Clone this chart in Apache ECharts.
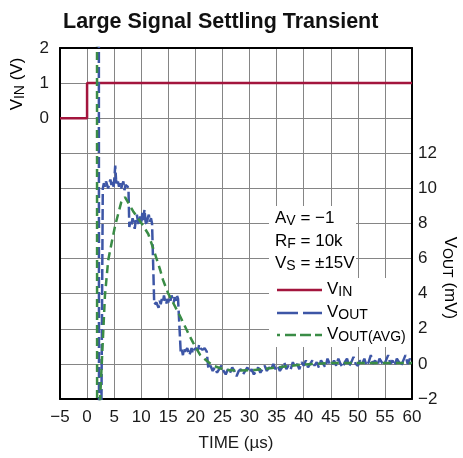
<!DOCTYPE html>
<html><head><meta charset="utf-8">
<script src="https://cdn.jsdelivr.net/npm/echarts@6/dist/echarts.min.js"></script>
<style>html,body{margin:0;padding:0;background:#fff}#c{width:463px;height:458px}</style>
</head><body><div id="c"></div>
<script>
const FONT = '"Liberation Sans Narrow","Liberation Sans",Arial,sans-serif';
const RED = '#a3153d', BLUE = '#3d56a6', GREEN = '#3a8c46';

// TIME (µs) axis
const timeRange = [-5, 60];
const vinRange = [-8, 2];      // left axis (V), labels shown 0..2
const voutRange = [-2, 18];    // right axis (mV), labels shown -2..12
const vinLabelMin = 0;
const voutLabelMax = 12;

// VIN (V)
const vinData = [[-5,0],[0,0],[0,1],[60,1]];

// VOUT (mV)
const voutData = [
[2.15,40],[2.25,-40],[2.5,-10],[2.9,10.0],
[3.1,10.3],[3.3,10.1],[3.5,10.4],[3.7,10.2],[3.9,10.0],[4.1,10.3],[4.3,10.5],[4.5,10.2],[4.7,10.4],[4.9,10.1],[5.05,10.6],[5.2,11.3],[5.35,10.5],[5.5,10.2],[5.7,10.4],[5.9,10.1],[6.1,10.3],[6.3,10.0],[6.5,10.2],[6.7,10.4],[6.9,9.9],[7.1,10.2],[7.3,10.3],[7.5,10.1],[7.65,9.9],
[7.8,7.8],[8.0,8.1],[8.2,7.9],[8.4,8.3],[8.6,8.0],[8.8,7.7],[9.0,8.2],[9.2,8.5],[9.4,8.1],[9.6,7.9],[9.8,8.4],[10.0,8.0],[10.2,8.6],[10.4,8.2],[10.6,8.8],[10.8,8.1],[11.0,7.9],[11.2,8.3],[11.4,8.5],[11.6,8.1],[11.8,8.3],[12.0,8.0],[12.2,7.9],
[12.4,3.4],[12.6,3.3],[12.8,3.5],[13.0,3.4],[13.2,3.2],[13.4,3.6],[13.6,3.4],[13.8,3.7],[14.0,3.5],[14.2,3.9],[14.4,3.6],[14.6,3.4],[14.8,3.7],[15.0,3.5],[15.2,3.8],[15.4,3.6],[15.6,3.9],[15.8,3.7],[16.0,3.5],[16.2,3.8],[16.4,3.6],[16.6,3.9],[16.8,3.7],[17.0,3.6],
[17.3,0.6],[17.5,0.8],[17.7,0.5],[17.9,0.9],[18.1,0.7],[18.3,0.6],[18.5,0.9],[18.7,0.8],[18.9,0.5],[19.1,0.7],[19.3,0.9],[19.5,0.6],[19.7,0.8],[19.9,0.7],[20.1,0.9],[20.3,1.0],[20.5,0.8],[20.7,1.1],[20.9,0.9],[21.1,1.0],[21.3,0.8],[21.5,0.7],[21.7,0.9],[21.9,0.8],[22.1,0.7],
[22.4,-0.3],[22.8,-0.1],[23.2,-0.4],[23.6,-0.2],[24.0,-0.5],[24.4,-0.3],[24.8,-0.1],[25.2,-0.4],[25.6,-0.6],[26.0,-0.3],[26.4,-0.5],[26.8,-0.2],[27.2,-0.4],[27.6,-0.7],[28.0,-0.4],[28.4,-0.3],[28.8,-0.6],[29.2,-0.4],[29.6,-0.2],[30.0,-0.5],[30.4,-0.3],[30.8,-0.6],[31.2,-0.4],[31.6,-0.2],[32.0,-0.5],[32.4,-0.3],[32.8,-0.1],[33.2,-0.4],[33.6,-0.2],[34.0,-0.3],[34.4,0.0],[34.8,-0.3],[35.2,-0.1],[35.6,-0.4],[36.0,-0.2],[36.4,0.1],[36.8,-0.3],[37.2,-0.1],[37.6,-0.3],[38.0,0.1],[38.4,-0.2],[38.8,0.0],[39.2,-0.3],[39.6,0.1],[40.0,-0.1],[40.4,0.2],[40.8,-0.2],[41.2,0.0],[41.6,0.2],[42.0,-0.1],[42.4,0.1],[42.8,-0.2],[43.2,0.2],[43.6,0.0],[44.0,-0.2],[44.4,0.3],[44.8,0.0],[45.2,-0.1],[45.6,0.2],[46.0,-0.1],[46.4,0.3],[46.8,0.0],[47.2,-0.2],[47.6,0.1],[48.0,0.3],[48.4,-0.1],[48.8,0.1],[49.2,0.4],[49.6,0.0],[50.0,-0.1],[50.4,0.2],[50.8,0.0],[51.2,0.3],[51.6,-0.1],[52.0,0.1],[52.4,0.5],[52.8,0.0],[53.2,0.2],[53.6,-0.1],[54.0,0.3],[54.4,0.1],[54.8,-0.1],[55.2,0.2],[55.6,0.5],[56.0,0.0],[56.4,0.2],[56.8,-0.1],[57.2,0.3],[57.6,0.1],[58.0,-0.1],[58.4,0.2],[58.8,0.5],[59.2,0.0],[59.6,0.3],[60.0,0.1]
];

// VOUT(AVG) (mV)
const voutAvgData = [
[1.82,40],[1.88,-40],[2.1,-4],[3.3,3.9],[3.9,5.9],[4.6,7.0],[5.2,7.9],[6.3,9.2],[7.0,9.5],[8.5,8.7],[10.3,7.9],[11.3,7.4],[12.3,6.5],[13.5,5.35],[14.0,4.8],[15.0,4.0],[15.7,3.6],[17.2,2.7],[19.0,1.55],[19.6,1.2],[20.9,0.5],[22.2,0.15],[23.3,-0.1],[24.6,-0.25],[25.5,-0.35],[28,-0.38],[31,-0.35],[35,-0.2],[39.3,-0.05],[45,0.05],[50,0.05],[55,0.05],[60,0.05]
];

const minus = v => String(v).replace('-', '\u2212');
const labelStyle = { fontFamily: FONT, fontSize: 17, color: '#1a1a1a' };
const rich = {
  m: { fontFamily: FONT, fontSize: 17, lineHeight: 20, color: '#1a1a1a' },
  s: { fontFamily: FONT, fontSize: 14, lineHeight: 11, verticalAlign: 'bottom', color: '#1a1a1a' }
};
function txt(x, y, text, rot, z) {
  return { type: 'text', x: x, y: y, rotation: rot || 0, z: z || 10,
    style: { text: text, rich: rich, align: rot ? 'center' : 'left', verticalAlign: 'middle' } };
}
function seg(x1, y1, x2, y2, color, dash) {
  return { type: 'line', z: 10, shape: { x1, y1, x2, y2 },
    style: { stroke: color, lineWidth: 2.5, lineDash: dash || null } };
}
const frameLine = { show: true, onZero: false, lineStyle: { color: '#000', width: 2 } };

const chart = echarts.init(document.getElementById('c'));
chart.setOption({
  animation: false,
  backgroundColor: '#fff',
  title: { text: 'Large Signal Settling Transient', left: 58, top: 6,
    textStyle: { fontFamily: FONT, fontSize: 21.5, fontWeight: 'bold', color: '#111' } },
  grid: { left: 60, right: 51, top: 48, bottom: 59 },
  xAxis: [{
    type: 'value', min: timeRange[0], max: timeRange[1], interval: 5, position: 'bottom',
    axisLine: frameLine, axisTick: { show: false },
    splitLine: { show: true, lineStyle: { color: '#858585', width: 1 } },
    axisLabel: Object.assign({ margin: 10, formatter: minus }, labelStyle),
    name: 'TIME (µs)', nameLocation: 'middle', nameGap: 36,
    nameTextStyle: { fontFamily: FONT, fontSize: 17, color: '#1a1a1a' }
  }, {
    type: 'value', min: timeRange[0], max: timeRange[1], interval: 5, position: 'top',
    axisLine: frameLine, axisTick: { show: false },
    axisLabel: { show: false }, splitLine: { show: false }
  }],
  yAxis: [{
    type: 'value', min: vinRange[0], max: vinRange[1], interval: 1, position: 'left',
    axisLine: frameLine, axisTick: { show: false },
    splitLine: { show: true, lineStyle: { color: '#858585', width: 1 } },
    axisLabel: Object.assign({ margin: 11, formatter: v => v >= vinLabelMin ? minus(v) : '' }, labelStyle)
  }, {
    type: 'value', min: voutRange[0], max: voutRange[1], interval: 2, position: 'right',
    axisLine: frameLine, axisTick: { show: false },
    splitLine: { show: false },
    axisLabel: Object.assign({ margin: 6, formatter: v => v <= voutLabelMax ? minus(v) : '' }, labelStyle)
  }],
  series: [
    { name: 'VIN', type: 'line', yAxisIndex: 0, data: vinData, symbol: 'none',
      lineStyle: { color: RED, width: 2.5 } },
    { name: 'VOUT', type: 'line', yAxisIndex: 1, data: voutData, symbol: 'none',
      lineStyle: { color: BLUE, width: 2.5, type: [11, 4] } },
    { name: 'VOUT(AVG)', type: 'line', yAxisIndex: 1, data: voutAvgData, symbol: 'none',
      lineStyle: { color: GREEN, width: 2.5, type: [8, 5] } }
  ],
  graphic: [
    { type: 'rect', z: 1, shape: { x: 269, y: 206, width: 87, height: 72 }, style: { fill: '#fff' } },
    { type: 'rect', z: 1, shape: { x: 269, y: 278, width: 142, height: 69 }, style: { fill: '#fff' } },
    txt(275, 218, '{m|A}{s|V}{m| = \u22121}'),
    txt(275, 241, '{m|R}{s|F}{m| = 10k}'),
    txt(275, 263, '{m|V}{s|S}{m| = ±15V}'),
    seg(277, 290, 322, 290, RED),
    seg(277, 313, 322, 313, BLUE, [21, 5]),
    seg(277, 335, 322, 335, GREEN, [3, 5, 11, 4, 11, 4, 11]),
    txt(327, 289, '{m|V}{s|IN}'),
    txt(327, 312, '{m|V}{s|OUT}'),
    txt(327, 334, '{m|V}{s|OUT(AVG)}'),
    txt(17, 84, '{m|V}{s|IN}{m| (V)}', Math.PI / 2),
    txt(450, 278, '{m|V}{s|OUT}{m| (mV)}', -Math.PI / 2)
  ]
});
</script></body></html>
